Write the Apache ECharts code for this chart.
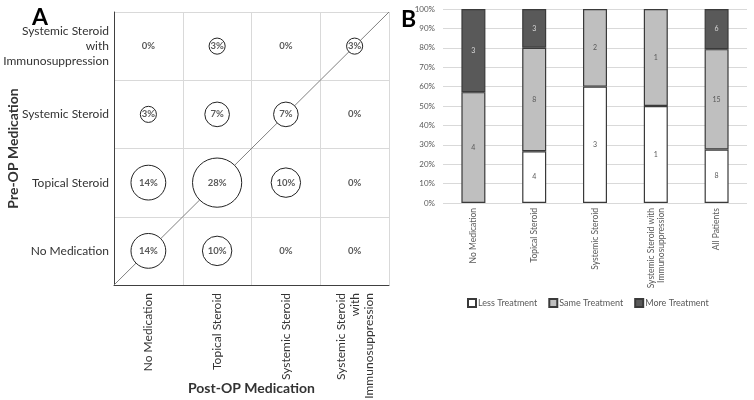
<!DOCTYPE html>
<html>
<head>
<meta charset="utf-8">
<script src="https://cdn.jsdelivr.net/npm/echarts@6/dist/echarts.min.js"></script>
<style>html,body{margin:0;padding:0;background:#fff}#c{width:754px;height:400px}</style>
</head>
<body>
<div id="c"></div>
<script>
// Panel A: post-op (x) vs pre-op (y) medication, percent of patients
const medCategories = ['No Medication', 'Topical Steroid', 'Systemic Steroid', 'Systemic Steroid\nwith\nImmunosuppression'];
// each row: pre-op medication; values by post-op medication (same order as medCategories)
const preNoMedication = [14, 10, 0, 0];
const preTopicalSteroid = [14, 28, 10, 0];
const preSystemicSteroid = [3, 7, 7, 0];
const preSystemicImmuno = [0, 3, 0, 3];
const diagonalLine = [[0, 0], [1, 1]];

// Panel B: treatment change by pre-op group (patient counts)
const groupCategories = ['No Medication', 'Topical Steroid', 'Systemic Steroid', 'Systemic Steroid with\nImmunosuppression', 'All Patients'];
const lessTreatment = [0, 4, 3, 1, 8];
const sameTreatment = [4, 8, 2, 1, 15];
const moreTreatment = [3, 3, 0, 0, 6];
const pctTicks = [0, 10, 20, 30, 40, 50, 60, 70, 80, 90, 100];

const FONT = 'Lato';
const rows = [preNoMedication, preTopicalSteroid, preSystemicSteroid, preSystemicImmuno];
const bubbleData = [];
rows.forEach((row, r) => row.forEach((v, c) => bubbleData.push([c, r, v])));

const totals = lessTreatment.map((v, i) => v + sameTreatment[i] + moreTreatment[i]);
const toPct = arr => arr.map((v, i) => v === 0 ? null : { value: v / totals[i] * 100, count: v });

const barStyle = (fill, labelColor) => ({
  itemStyle: { color: fill, borderColor: '#3a3a3a', borderWidth: 1.2 },
  label: { show: true, position: 'inside', fontSize: 7, color: labelColor, fontFamily: FONT,
    formatter: p => p.data && p.data.count ? String(p.data.count) : '' }
});

const chart = echarts.init(document.getElementById('c'), null, { renderer: 'canvas' });
chart.setOption({
  animation: false,
  textStyle: { fontFamily: FONT },
  title: [
    { text: 'A', left: 27, top: 1, textStyle: { fontSize: 23, fontWeight: 'bold', color: '#000', fontFamily: FONT } },
    { text: 'B', left: 396, top: 3, textStyle: { fontSize: 23, fontWeight: 'bold', color: '#000', fontFamily: FONT } }
  ],
  grid: [
    { left: 114, top: 12, width: 275, height: 273, outerBoundsMode: 'none', containLabel: false },
    { left: 443, top: 9, width: 304, height: 194, outerBoundsMode: 'none', containLabel: false }
  ],
  legend: {
    left: 462, top: 293, width: 300, orient: 'horizontal', itemWidth: 8, itemHeight: 8, itemGap: 11, icon: 'rect',
    textStyle: { fontSize: 9, color: '#595959', fontFamily: FONT, padding: [0, 0, 0, -3] },
    data: ['Less Treatment', 'Same Treatment', 'More Treatment']
  },
  xAxis: [
    { type: 'category', gridIndex: 0, data: medCategories, boundaryGap: true,
      axisLine: { lineStyle: { color: '#404040', width: 1 } }, axisTick: { show: false },
      splitLine: { show: true, lineStyle: { color: '#d9d9d9' } },
      axisLabel: { rotate: 90, fontSize: 12, color: '#333', margin: 8, interval: 0, lineHeight: 14 },
      name: 'Post-OP Medication', nameLocation: 'middle', nameGap: 96, nameMoveOverlap: false,
      nameTextStyle: { fontSize: 14, fontWeight: 'bold', color: '#333' } },
    { type: 'value', gridIndex: 0, min: 0, max: 1, show: false },
    { type: 'category', gridIndex: 1, data: groupCategories,
      axisLine: { show: false }, axisTick: { show: false },
      axisLabel: { rotate: 90, fontSize: 8.5, color: '#595959', margin: 5, interval: 0, lineHeight: 10 } }
  ],
  yAxis: [
    { type: 'category', gridIndex: 0, data: medCategories, boundaryGap: true,
      axisLine: { lineStyle: { color: '#404040', width: 1 } }, axisTick: { show: false },
      splitLine: { show: true, lineStyle: { color: '#d9d9d9' } },
      axisLabel: { fontSize: 12, color: '#333', margin: 5, lineHeight: 15 },
      name: 'Pre-OP Medication', nameLocation: 'middle', nameGap: 94, nameRotate: 90, nameMoveOverlap: false,
      nameTextStyle: { fontSize: 14, fontWeight: 'bold', color: '#333' } },
    { type: 'value', gridIndex: 0, min: 0, max: 1, show: false },
    { type: 'value', gridIndex: 1, min: 0, max: 100, interval: 10,
      axisLine: { show: false }, axisTick: { show: false },
      splitLine: { lineStyle: { color: '#d9d9d9' } },
      axisLabel: { fontSize: 8, color: '#595959', margin: 8, formatter: '{value}%' } }
  ],
  series: [
    { type: 'line', xAxisIndex: 1, yAxisIndex: 1, data: diagonalLine, symbol: 'none', z: 1,
      lineStyle: { color: '#808080', width: 1 }, silent: true },
    { type: 'scatter', xAxisIndex: 0, yAxisIndex: 0, data: bubbleData, z: 3,
      symbolSize: v => v[2] > 0 ? 9.3 * Math.sqrt(v[2]) : 0,
      itemStyle: { color: '#fff', borderColor: '#222', borderWidth: 1, opacity: 1 },
      label: { show: true, position: 'inside', formatter: p => p.data[2] + '%', fontSize: 9.5, fontWeight: 'bold', color: '#595959' } },
    Object.assign({ name: 'Less Treatment', type: 'bar', xAxisIndex: 2, yAxisIndex: 2, stack: 't', barWidth: 24, data: toPct(lessTreatment) }, barStyle('#ffffff', '#595959')),
    Object.assign({ name: 'Same Treatment', type: 'bar', xAxisIndex: 2, yAxisIndex: 2, stack: 't', barWidth: 24, data: toPct(sameTreatment) }, barStyle('#bfbfbf', '#595959')),
    Object.assign({ name: 'More Treatment', type: 'bar', xAxisIndex: 2, yAxisIndex: 2, stack: 't', barWidth: 24, data: toPct(moreTreatment) }, barStyle('#595959', '#d9d9d9'))
  ]
});
</script>
</body>
</html>
